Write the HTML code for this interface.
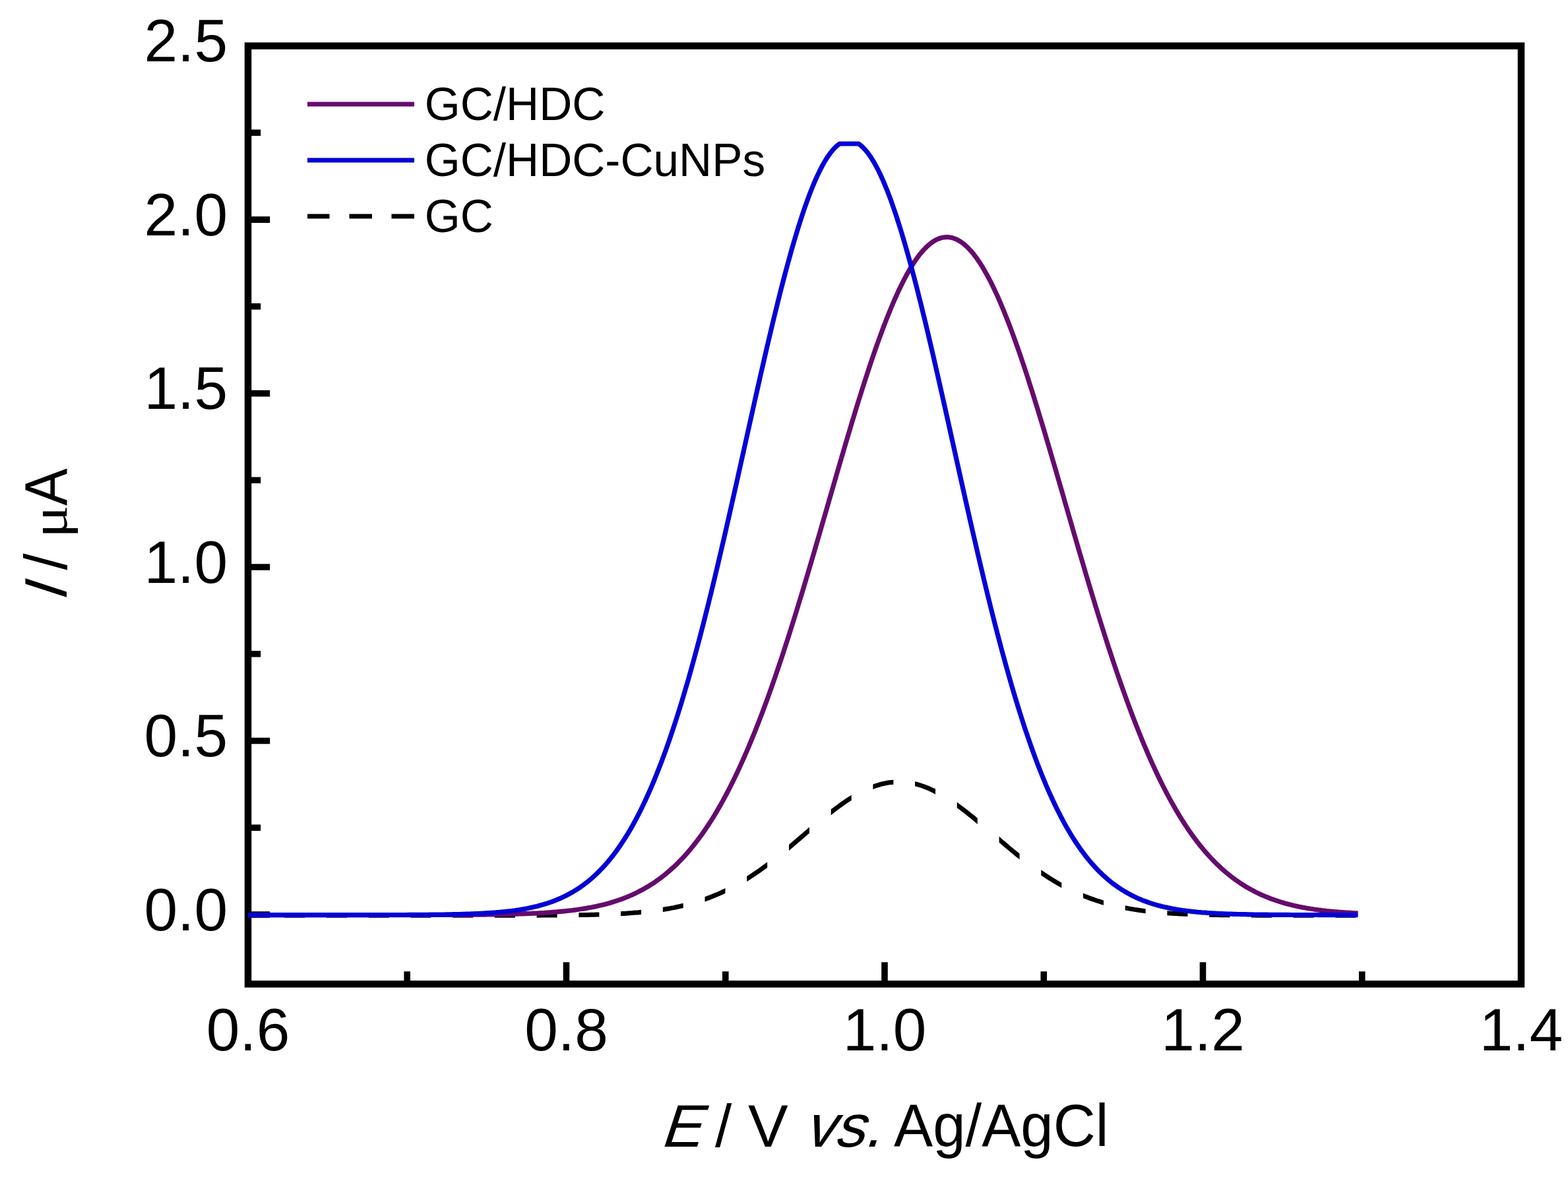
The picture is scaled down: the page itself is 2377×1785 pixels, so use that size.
<!DOCTYPE html>
<html><head><meta charset="utf-8"><title>DPV</title>
<style>
html,body{margin:0;padding:0;background:#fff;}
body{width:2377px;height:1785px;overflow:hidden;}
svg{display:block;}
text{font-family:"Liberation Sans",Arial,sans-serif;fill:#000;}
</style></head>
<body>
<svg width="2377" height="1785" viewBox="0 0 2377 1785">
<rect width="2377" height="1785" fill="#fff"/>
<defs><clipPath id="dc"><rect x="376.0" y="1000" width="31.0" height="420"/><rect x="431.3" y="1000" width="31.0" height="420"/><rect x="495.0" y="1000" width="31.0" height="420"/><rect x="558.8" y="1000" width="31.0" height="420"/><rect x="622.5" y="1000" width="31.0" height="420"/><rect x="686.2" y="1000" width="31.0" height="420"/><rect x="749.9" y="1000" width="31.0" height="420"/><rect x="813.6" y="1000" width="31.0" height="420"/><rect x="877.4" y="1000" width="31.0" height="420"/><rect x="941.1" y="1000" width="31.0" height="420"/><rect x="1004.8" y="1000" width="31.0" height="420"/><rect x="1068.5" y="1000" width="31.0" height="420"/><rect x="1132.2" y="1000" width="31.0" height="420"/><rect x="1196.0" y="1000" width="31.0" height="420"/><rect x="1259.7" y="1000" width="31.0" height="420"/><rect x="1323.4" y="1000" width="31.0" height="420"/><rect x="1387.1" y="1000" width="31.0" height="420"/><rect x="1450.8" y="1000" width="31.0" height="420"/><rect x="1514.6" y="1000" width="31.0" height="420"/><rect x="1578.3" y="1000" width="31.0" height="420"/><rect x="1642.0" y="1000" width="31.0" height="420"/><rect x="1705.7" y="1000" width="31.0" height="420"/><rect x="1769.4" y="1000" width="31.0" height="420"/><rect x="1833.2" y="1000" width="31.0" height="420"/><rect x="1896.9" y="1000" width="31.0" height="420"/><rect x="1960.6" y="1000" width="31.0" height="420"/><rect x="2024.3" y="1000" width="31.0" height="420"/></clipPath></defs>
<g stroke="#000" fill="none">
<path d="M376.0 1387.0 H409.2 M376.0 1255.3 H395.2 M376.0 1123.5 H409.2 M376.0 991.8 H395.2 M376.0 860.0 H409.2 M376.0 728.3 H395.2 M376.0 596.6 H409.2 M376.0 464.8 H395.2 M376.0 333.1 H409.2 M376.0 201.3 H395.2 M617.2 1492.4 V1473.2 M858.5 1492.4 V1459.2 M1099.8 1492.4 V1473.2 M1341.0 1492.4 V1459.2 M1582.3 1492.4 V1473.2 M1823.5 1492.4 V1459.2 M2064.8 1492.4 V1473.2" stroke-width="9.6"/>
<rect x="376" y="69.6" width="1930.0" height="1422.8" stroke-width="10.5"/>
</g>
<g fill="none" stroke-linejoin="round">
<path d="M376.0 1388.3 L379.0 1388.3 L382.0 1388.3 L385.0 1388.3 L388.0 1388.3 L391.0 1388.3 L394.0 1388.3 L397.0 1388.3 L400.0 1388.3 L403.0 1388.3 L406.0 1388.3 L409.0 1388.3 L412.0 1388.3 L415.0 1388.3 L418.0 1388.3 L421.0 1388.3 L424.0 1388.3 L427.0 1388.3 L430.0 1388.3 L433.0 1388.3 L436.0 1388.3 L439.0 1388.3 L442.0 1388.3 L445.0 1388.3 L448.0 1388.3 L451.0 1388.3 L454.0 1388.3 L457.0 1388.3 L460.0 1388.3 L463.0 1388.3 L466.0 1388.3 L469.0 1388.3 L472.0 1388.3 L475.0 1388.3 L478.0 1388.3 L481.0 1388.3 L484.0 1388.3 L487.0 1388.3 L490.0 1388.3 L493.0 1388.3 L496.0 1388.3 L499.0 1388.3 L502.0 1388.3 L505.0 1388.3 L508.0 1388.3 L511.0 1388.3 L514.0 1388.3 L517.0 1388.3 L520.0 1388.3 L523.0 1388.3 L526.0 1388.3 L529.0 1388.3 L532.0 1388.3 L535.0 1388.3 L538.0 1388.3 L541.0 1388.3 L544.0 1388.3 L547.0 1388.3 L550.0 1388.3 L553.0 1388.3 L556.0 1388.3 L559.0 1388.3 L562.0 1388.3 L565.0 1388.3 L568.0 1388.3 L571.0 1388.3 L574.0 1388.3 L577.0 1388.3 L580.0 1388.3 L583.0 1388.3 L586.0 1388.3 L589.0 1388.3 L592.0 1388.3 L595.0 1388.3 L598.0 1388.3 L601.0 1388.3 L604.0 1388.3 L607.0 1388.3 L610.0 1388.3 L613.0 1388.3 L616.0 1388.3 L619.0 1388.3 L622.0 1388.3 L625.0 1388.3 L628.0 1388.3 L631.0 1388.3 L634.0 1388.3 L637.0 1388.3 L640.0 1388.3 L643.0 1388.3 L646.0 1388.3 L649.0 1388.3 L652.0 1388.3 L655.0 1388.3 L658.0 1388.3 L661.0 1388.3 L664.0 1388.3 L667.0 1388.3 L670.0 1388.3 L673.0 1388.3 L676.0 1388.3 L679.0 1388.3 L682.0 1388.3 L685.0 1388.3 L688.0 1388.3 L691.0 1388.3 L694.0 1388.3 L697.0 1388.3 L700.0 1388.3 L703.0 1388.3 L706.0 1388.3 L709.0 1388.3 L712.0 1388.3 L715.0 1388.3 L718.0 1388.3 L721.0 1388.3 L724.0 1388.3 L727.0 1388.3 L730.0 1388.3 L733.0 1388.3 L736.0 1388.3 L739.0 1388.3 L742.0 1388.3 L745.0 1388.3 L748.0 1388.3 L751.0 1388.3 L754.0 1388.3 L757.0 1388.3 L760.0 1388.3 L763.0 1388.3 L766.0 1388.3 L769.0 1388.3 L772.0 1388.3 L775.0 1388.3 L778.0 1388.3 L781.0 1388.2 L784.0 1388.2 L787.0 1388.2 L790.0 1388.2 L793.0 1388.2 L796.0 1388.2 L799.0 1388.2 L802.0 1388.2 L805.0 1388.2 L808.0 1388.2 L811.0 1388.2 L814.0 1388.2 L817.0 1388.2 L820.0 1388.1 L823.0 1388.1 L826.0 1388.1 L829.0 1388.1 L832.0 1388.1 L835.0 1388.1 L838.0 1388.1 L841.0 1388.0 L844.0 1388.0 L847.0 1388.0 L850.0 1388.0 L853.0 1387.9 L856.0 1387.9 L859.0 1387.9 L862.0 1387.9 L865.0 1387.8 L868.0 1387.8 L871.0 1387.7 L874.0 1387.7 L877.0 1387.7 L880.0 1387.6 L883.0 1387.6 L886.0 1387.5 L889.0 1387.5 L892.0 1387.4 L895.0 1387.3 L898.0 1387.3 L901.0 1387.2 L904.0 1387.1 L907.0 1387.0 L910.0 1386.9 L913.0 1386.8 L916.0 1386.7 L919.0 1386.6 L922.0 1386.5 L925.0 1386.4 L928.0 1386.3 L931.0 1386.2 L934.0 1386.0 L937.0 1385.9 L940.0 1385.7 L943.0 1385.5 L946.0 1385.4 L949.0 1385.2 L952.0 1385.0 L955.0 1384.8 L958.0 1384.6 L961.0 1384.3 L964.0 1384.1 L967.0 1383.9 L970.0 1383.6 L973.0 1383.3 L976.0 1383.0 L979.0 1382.7 L982.0 1382.4 L985.0 1382.1 L988.0 1381.7 L991.0 1381.3 L994.0 1380.9 L997.0 1380.5 L1000.0 1380.1 L1003.0 1379.7 L1006.0 1379.2 L1009.0 1378.7 L1012.0 1378.2 L1015.0 1377.7 L1018.0 1377.1 L1021.0 1376.6 L1024.0 1376.0 L1027.0 1375.3 L1030.0 1374.7 L1033.0 1374.0 L1036.0 1373.3 L1039.0 1372.6 L1042.0 1371.8 L1045.0 1371.0 L1048.0 1370.2 L1051.0 1369.4 L1054.0 1368.5 L1057.0 1367.6 L1060.0 1366.6 L1063.0 1365.6 L1066.0 1364.6 L1069.0 1363.6 L1072.0 1362.5 L1075.0 1361.4 L1078.0 1360.2 L1081.0 1359.0 L1084.0 1357.8 L1087.0 1356.6 L1090.0 1355.3 L1093.0 1353.9 L1096.0 1352.5 L1099.0 1351.1 L1102.0 1349.7 L1105.0 1348.2 L1108.0 1346.7 L1111.0 1345.1 L1114.0 1343.5 L1117.0 1341.8 L1120.0 1340.1 L1123.0 1338.4 L1126.0 1336.6 L1129.0 1334.8 L1132.0 1333.0 L1135.0 1331.1 L1138.0 1329.1 L1141.0 1327.2 L1144.0 1325.2 L1147.0 1323.1 L1150.0 1321.1 L1153.0 1319.0 L1156.0 1316.8 L1159.0 1314.6 L1162.0 1312.4 L1165.0 1310.2 L1168.0 1307.9 L1171.0 1305.6 L1174.0 1303.3 L1177.0 1300.9 L1180.0 1298.5 L1183.0 1296.1 L1186.0 1293.7 L1189.0 1291.2 L1192.0 1288.7 L1195.0 1286.2 L1198.0 1283.7 L1201.0 1281.2 L1204.0 1278.6 L1207.0 1276.1 L1210.0 1273.5 L1213.0 1271.0 L1216.0 1268.4 L1219.0 1265.8 L1222.0 1263.2 L1225.0 1260.7 L1228.0 1258.1 L1231.0 1255.5 L1234.0 1253.0 L1237.0 1250.4 L1240.0 1247.9 L1243.0 1245.4 L1246.0 1242.9 L1249.0 1240.5 L1252.0 1238.0 L1255.0 1235.6 L1258.0 1233.2 L1261.0 1230.8 L1264.0 1228.5 L1267.0 1226.2 L1270.0 1224.0 L1273.0 1221.8 L1276.0 1219.6 L1279.0 1217.5 L1282.0 1215.4 L1285.0 1213.4 L1288.0 1211.5 L1291.0 1209.6 L1294.0 1207.7 L1297.0 1205.9 L1300.0 1204.2 L1303.0 1202.6 L1306.0 1201.0 L1309.0 1199.5 L1312.0 1198.0 L1315.0 1196.7 L1318.0 1195.4 L1321.0 1194.1 L1324.0 1193.0 L1327.0 1191.9 L1330.0 1191.0 L1333.0 1190.1 L1336.0 1189.2 L1339.0 1188.5 L1342.0 1187.9 L1345.0 1187.3 L1348.0 1186.8 L1351.0 1186.5 L1354.0 1186.2 L1357.0 1185.9 L1360.0 1185.8 L1363.0 1185.8 L1366.0 1185.9 L1369.0 1186.0 L1372.0 1186.2 L1375.0 1186.6 L1378.0 1187.0 L1381.0 1187.5 L1384.0 1188.1 L1387.0 1188.7 L1390.0 1189.5 L1393.0 1190.3 L1396.0 1191.3 L1399.0 1192.3 L1402.0 1193.4 L1405.0 1194.5 L1408.0 1195.8 L1411.0 1197.1 L1414.0 1198.5 L1417.0 1200.0 L1420.0 1201.5 L1423.0 1203.1 L1426.0 1204.8 L1429.0 1206.5 L1432.0 1208.3 L1435.0 1210.2 L1438.0 1212.1 L1441.0 1214.1 L1444.0 1216.1 L1447.0 1218.2 L1450.0 1220.3 L1453.0 1222.5 L1456.0 1224.7 L1459.0 1227.0 L1462.0 1229.3 L1465.0 1231.6 L1468.0 1234.0 L1471.0 1236.4 L1474.0 1238.8 L1477.0 1241.3 L1480.0 1243.7 L1483.0 1246.2 L1486.0 1248.8 L1489.0 1251.3 L1492.0 1253.8 L1495.0 1256.4 L1498.0 1259.0 L1501.0 1261.5 L1504.0 1264.1 L1507.0 1266.7 L1510.0 1269.3 L1513.0 1271.8 L1516.0 1274.4 L1519.0 1276.9 L1522.0 1279.5 L1525.0 1282.0 L1528.0 1284.6 L1531.0 1287.1 L1534.0 1289.6 L1537.0 1292.0 L1540.0 1294.5 L1543.0 1296.9 L1546.0 1299.3 L1549.0 1301.7 L1552.0 1304.0 L1555.0 1306.4 L1558.0 1308.7 L1561.0 1310.9 L1564.0 1313.2 L1567.0 1315.4 L1570.0 1317.5 L1573.0 1319.7 L1576.0 1321.8 L1579.0 1323.8 L1582.0 1325.9 L1585.0 1327.8 L1588.0 1329.8 L1591.0 1331.7 L1594.0 1333.6 L1597.0 1335.4 L1600.0 1337.2 L1603.0 1339.0 L1606.0 1340.7 L1609.0 1342.4 L1612.0 1344.0 L1615.0 1345.6 L1618.0 1347.2 L1621.0 1348.7 L1624.0 1350.2 L1627.0 1351.6 L1630.0 1353.0 L1633.0 1354.4 L1636.0 1355.7 L1639.0 1357.0 L1642.0 1358.2 L1645.0 1359.4 L1648.0 1360.6 L1651.0 1361.8 L1654.0 1362.9 L1657.0 1363.9 L1660.0 1365.0 L1663.0 1366.0 L1666.0 1366.9 L1669.0 1367.9 L1672.0 1368.8 L1675.0 1369.6 L1678.0 1370.5 L1681.0 1371.3 L1684.0 1372.1 L1687.0 1372.8 L1690.0 1373.5 L1693.0 1374.2 L1696.0 1374.9 L1699.0 1375.5 L1702.0 1376.2 L1705.0 1376.8 L1708.0 1377.3 L1711.0 1377.9 L1714.0 1378.4 L1717.0 1378.9 L1720.0 1379.4 L1723.0 1379.8 L1726.0 1380.3 L1729.0 1380.7 L1732.0 1381.1 L1735.0 1381.5 L1738.0 1381.8 L1741.0 1382.2 L1744.0 1382.5 L1747.0 1382.8 L1750.0 1383.1 L1753.0 1383.4 L1756.0 1383.7 L1759.0 1383.9 L1762.0 1384.2 L1765.0 1384.4 L1768.0 1384.6 L1771.0 1384.9 L1774.0 1385.1 L1777.0 1385.2 L1780.0 1385.4 L1783.0 1385.6 L1786.0 1385.8 L1789.0 1385.9 L1792.0 1386.1 L1795.0 1386.2 L1798.0 1386.3 L1801.0 1386.4 L1804.0 1386.6 L1807.0 1386.7 L1810.0 1386.8 L1813.0 1386.9 L1816.0 1387.0 L1819.0 1387.1 L1822.0 1387.1 L1825.0 1387.2 L1828.0 1387.3 L1831.0 1387.3 L1834.0 1387.4 L1837.0 1387.5 L1840.0 1387.5 L1843.0 1387.6 L1846.0 1387.6 L1849.0 1387.7 L1852.0 1387.7 L1855.0 1387.8 L1858.0 1387.8 L1861.0 1387.8 L1864.0 1387.9 L1867.0 1387.9 L1870.0 1387.9 L1873.0 1388.0 L1876.0 1388.0 L1879.0 1388.0 L1882.0 1388.0 L1885.0 1388.0 L1888.0 1388.1 L1891.0 1388.1 L1894.0 1388.1 L1897.0 1388.1 L1900.0 1388.1 L1903.0 1388.1 L1906.0 1388.2 L1909.0 1388.2 L1912.0 1388.2 L1915.0 1388.2 L1918.0 1388.2 L1921.0 1388.2 L1924.0 1388.2 L1927.0 1388.2 L1930.0 1388.2 L1933.0 1388.2 L1936.0 1388.2 L1939.0 1388.2 L1942.0 1388.2 L1945.0 1388.2 L1948.0 1388.3 L1951.0 1388.3 L1954.0 1388.3 L1957.0 1388.3 L1960.0 1388.3 L1963.0 1388.3 L1966.0 1388.3 L1969.0 1388.3 L1972.0 1388.3 L1975.0 1388.3 L1978.0 1388.3 L1981.0 1388.3 L1984.0 1388.3 L1987.0 1388.3 L1990.0 1388.3 L1993.0 1388.3 L1996.0 1388.3 L1999.0 1388.3 L2002.0 1388.3 L2005.0 1388.3 L2008.0 1388.3 L2011.0 1388.3 L2014.0 1388.3 L2017.0 1388.3 L2020.0 1388.3 L2023.0 1388.3 L2026.0 1388.3 L2029.0 1388.3 L2032.0 1388.3 L2035.0 1388.3 L2038.0 1388.3 L2041.0 1388.3 L2044.0 1388.3 L2047.0 1388.3 L2050.0 1388.3 L2053.0 1388.3 L2056.0 1388.3 L2058.5 1388.3" stroke="#000" stroke-width="7" clip-path="url(#dc)"/>
<path d="M376.0 1387.6 L379.0 1387.6 L382.0 1387.6 L385.0 1387.6 L388.0 1387.6 L391.0 1387.6 L394.0 1387.6 L397.0 1387.6 L400.0 1387.6 L403.0 1387.6 L406.0 1387.6 L409.0 1387.6 L412.0 1387.6 L415.0 1387.6 L418.0 1387.6 L421.0 1387.6 L424.0 1387.6 L427.0 1387.6 L430.0 1387.6 L433.0 1387.6 L436.0 1387.6 L439.0 1387.6 L442.0 1387.6 L445.0 1387.6 L448.0 1387.6 L451.0 1387.6 L454.0 1387.6 L457.0 1387.6 L460.0 1387.6 L463.0 1387.6 L466.0 1387.6 L469.0 1387.6 L472.0 1387.6 L475.0 1387.6 L478.0 1387.6 L481.0 1387.6 L484.0 1387.6 L487.0 1387.6 L490.0 1387.6 L493.0 1387.6 L496.0 1387.6 L499.0 1387.6 L502.0 1387.6 L505.0 1387.6 L508.0 1387.6 L511.0 1387.6 L514.0 1387.6 L517.0 1387.6 L520.0 1387.6 L523.0 1387.6 L526.0 1387.6 L529.0 1387.6 L532.0 1387.6 L535.0 1387.6 L538.0 1387.6 L541.0 1387.6 L544.0 1387.6 L547.0 1387.6 L550.0 1387.6 L553.0 1387.6 L556.0 1387.6 L559.0 1387.6 L562.0 1387.6 L565.0 1387.6 L568.0 1387.6 L571.0 1387.6 L574.0 1387.6 L577.0 1387.6 L580.0 1387.6 L583.0 1387.6 L586.0 1387.6 L589.0 1387.6 L592.0 1387.6 L595.0 1387.6 L598.0 1387.6 L601.0 1387.6 L604.0 1387.6 L607.0 1387.6 L610.0 1387.6 L613.0 1387.6 L616.0 1387.6 L619.0 1387.6 L622.0 1387.6 L625.0 1387.6 L628.0 1387.6 L631.0 1387.6 L634.0 1387.5 L637.0 1387.5 L640.0 1387.5 L643.0 1387.5 L646.0 1387.5 L649.0 1387.5 L652.0 1387.5 L655.0 1387.5 L658.0 1387.5 L661.0 1387.5 L664.0 1387.5 L667.0 1387.5 L670.0 1387.5 L673.0 1387.5 L676.0 1387.5 L679.0 1387.5 L682.0 1387.4 L685.0 1387.4 L688.0 1387.4 L691.0 1387.4 L694.0 1387.4 L697.0 1387.4 L700.0 1387.4 L703.0 1387.3 L706.0 1387.3 L709.0 1387.3 L712.0 1387.3 L715.0 1387.3 L718.0 1387.2 L721.0 1387.2 L724.0 1387.2 L727.0 1387.2 L730.0 1387.1 L733.0 1387.1 L736.0 1387.1 L739.0 1387.0 L742.0 1387.0 L745.0 1386.9 L748.0 1386.9 L751.0 1386.9 L754.0 1386.8 L757.0 1386.8 L760.0 1386.7 L763.0 1386.6 L766.0 1386.6 L769.0 1386.5 L772.0 1386.5 L775.0 1386.4 L778.0 1386.3 L781.0 1386.2 L784.0 1386.1 L787.0 1386.0 L790.0 1385.9 L793.0 1385.8 L796.0 1385.7 L799.0 1385.6 L802.0 1385.5 L805.0 1385.4 L808.0 1385.2 L811.0 1385.1 L814.0 1385.0 L817.0 1384.8 L820.0 1384.6 L823.0 1384.5 L826.0 1384.3 L829.0 1384.1 L832.0 1383.9 L835.0 1383.7 L838.0 1383.4 L841.0 1383.2 L844.0 1383.0 L847.0 1382.7 L850.0 1382.4 L853.0 1382.1 L856.0 1381.8 L859.0 1381.5 L862.0 1381.2 L865.0 1380.8 L868.0 1380.5 L871.0 1380.1 L874.0 1379.7 L877.0 1379.3 L880.0 1378.8 L883.0 1378.4 L886.0 1377.9 L889.0 1377.4 L892.0 1376.8 L895.0 1376.3 L898.0 1375.7 L901.0 1375.1 L904.0 1374.5 L907.0 1373.8 L910.0 1373.1 L913.0 1372.4 L916.0 1371.7 L919.0 1370.9 L922.0 1370.1 L925.0 1369.2 L928.0 1368.3 L931.0 1367.4 L934.0 1366.4 L937.0 1365.4 L940.0 1364.4 L943.0 1363.3 L946.0 1362.2 L949.0 1361.0 L952.0 1359.8 L955.0 1358.5 L958.0 1357.2 L961.0 1355.8 L964.0 1354.4 L967.0 1352.9 L970.0 1351.3 L973.0 1349.8 L976.0 1348.1 L979.0 1346.4 L982.0 1344.6 L985.0 1342.8 L988.0 1340.9 L991.0 1338.9 L994.0 1336.9 L997.0 1334.7 L1000.0 1332.6 L1003.0 1330.3 L1006.0 1328.0 L1009.0 1325.6 L1012.0 1323.1 L1015.0 1320.5 L1018.0 1317.8 L1021.0 1315.1 L1024.0 1312.3 L1027.0 1309.4 L1030.0 1306.3 L1033.0 1303.2 L1036.0 1300.1 L1039.0 1296.8 L1042.0 1293.4 L1045.0 1289.9 L1048.0 1286.3 L1051.0 1282.6 L1054.0 1278.8 L1057.0 1274.9 L1060.0 1270.9 L1063.0 1266.8 L1066.0 1262.6 L1069.0 1258.3 L1072.0 1253.8 L1075.0 1249.2 L1078.0 1244.6 L1081.0 1239.8 L1084.0 1234.9 L1087.0 1229.8 L1090.0 1224.7 L1093.0 1219.4 L1096.0 1214.0 L1099.0 1208.5 L1102.0 1202.8 L1105.0 1197.1 L1108.0 1191.2 L1111.0 1185.1 L1114.0 1179.0 L1117.0 1172.7 L1120.0 1166.3 L1123.0 1159.8 L1126.0 1153.1 L1129.0 1146.3 L1132.0 1139.4 L1135.0 1132.4 L1138.0 1125.2 L1141.0 1117.9 L1144.0 1110.5 L1147.0 1102.9 L1150.0 1095.3 L1153.0 1087.5 L1156.0 1079.6 L1159.0 1071.5 L1162.0 1063.4 L1165.0 1055.1 L1168.0 1046.7 L1171.0 1038.2 L1174.0 1029.6 L1177.0 1020.9 L1180.0 1012.0 L1183.0 1003.1 L1186.0 994.1 L1189.0 984.9 L1192.0 975.7 L1195.0 966.3 L1198.0 956.9 L1201.0 947.4 L1204.0 937.8 L1207.0 928.1 L1210.0 918.3 L1213.0 908.5 L1216.0 898.6 L1219.0 888.6 L1222.0 878.6 L1225.0 868.5 L1228.0 858.3 L1231.0 848.2 L1234.0 837.9 L1237.0 827.6 L1240.0 817.3 L1243.0 807.0 L1246.0 796.6 L1249.0 786.3 L1252.0 775.9 L1255.0 765.5 L1258.0 755.1 L1261.0 744.7 L1264.0 734.3 L1267.0 723.9 L1270.0 713.6 L1273.0 703.3 L1276.0 693.0 L1279.0 682.8 L1282.0 672.6 L1285.0 662.5 L1288.0 652.4 L1291.0 642.4 L1294.0 632.5 L1297.0 622.6 L1300.0 612.8 L1303.0 603.2 L1306.0 593.6 L1309.0 584.1 L1312.0 574.8 L1315.0 565.6 L1318.0 556.5 L1321.0 547.5 L1324.0 538.7 L1327.0 530.0 L1330.0 521.4 L1333.0 513.1 L1336.0 504.9 L1339.0 496.8 L1342.0 489.0 L1345.0 481.3 L1348.0 473.8 L1351.0 466.5 L1354.0 459.4 L1357.0 452.5 L1360.0 445.8 L1363.0 439.4 L1366.0 433.1 L1369.0 427.1 L1372.0 421.3 L1375.0 415.8 L1378.0 410.4 L1381.0 405.4 L1384.0 400.6 L1387.0 396.0 L1390.0 391.7 L1393.0 387.6 L1396.0 383.8 L1399.0 380.3 L1402.0 377.1 L1405.0 374.1 L1408.0 371.4 L1411.0 368.9 L1414.0 366.8 L1417.0 364.9 L1420.0 363.3 L1423.0 362.0 L1426.0 361.0 L1429.0 360.2 L1432.0 359.8 L1435.0 359.6 L1438.0 359.7 L1441.0 360.1 L1444.0 360.8 L1447.0 361.8 L1450.0 363.0 L1453.0 364.6 L1456.0 366.4 L1459.0 368.5 L1462.0 370.9 L1465.0 373.5 L1468.0 376.4 L1471.0 379.6 L1474.0 383.1 L1477.0 386.8 L1480.0 390.8 L1483.0 395.1 L1486.0 399.6 L1489.0 404.4 L1492.0 409.4 L1495.0 414.7 L1498.0 420.2 L1501.0 425.9 L1504.0 431.9 L1507.0 438.1 L1510.0 444.5 L1513.0 451.1 L1516.0 458.0 L1519.0 465.1 L1522.0 472.3 L1525.0 479.8 L1528.0 487.4 L1531.0 495.2 L1534.0 503.2 L1537.0 511.4 L1540.0 519.8 L1543.0 528.3 L1546.0 536.9 L1549.0 545.7 L1552.0 554.7 L1555.0 563.7 L1558.0 572.9 L1561.0 582.3 L1564.0 591.7 L1567.0 601.2 L1570.0 610.9 L1573.0 620.6 L1576.0 630.5 L1579.0 640.4 L1582.0 650.4 L1585.0 660.4 L1588.0 670.6 L1591.0 680.7 L1594.0 691.0 L1597.0 701.2 L1600.0 711.5 L1603.0 721.9 L1606.0 732.2 L1609.0 742.6 L1612.0 753.0 L1615.0 763.4 L1618.0 773.8 L1621.0 784.2 L1624.0 794.6 L1627.0 804.9 L1630.0 815.3 L1633.0 825.6 L1636.0 835.9 L1639.0 846.1 L1642.0 856.3 L1645.0 866.5 L1648.0 876.6 L1651.0 886.6 L1654.0 896.6 L1657.0 906.5 L1660.0 916.4 L1663.0 926.2 L1666.0 935.9 L1669.0 945.5 L1672.0 955.0 L1675.0 964.5 L1678.0 973.8 L1681.0 983.1 L1684.0 992.2 L1687.0 1001.3 L1690.0 1010.3 L1693.0 1019.1 L1696.0 1027.9 L1699.0 1036.5 L1702.0 1045.0 L1705.0 1053.4 L1708.0 1061.7 L1711.0 1069.9 L1714.0 1078.0 L1717.0 1085.9 L1720.0 1093.7 L1723.0 1101.4 L1726.0 1109.0 L1729.0 1116.4 L1732.0 1123.8 L1735.0 1130.9 L1738.0 1138.0 L1741.0 1145.0 L1744.0 1151.8 L1747.0 1158.5 L1750.0 1165.0 L1753.0 1171.4 L1756.0 1177.7 L1759.0 1183.9 L1762.0 1190.0 L1765.0 1195.9 L1768.0 1201.7 L1771.0 1207.4 L1774.0 1212.9 L1777.0 1218.3 L1780.0 1223.6 L1783.0 1228.8 L1786.0 1233.9 L1789.0 1238.8 L1792.0 1243.6 L1795.0 1248.3 L1798.0 1252.9 L1801.0 1257.4 L1804.0 1261.7 L1807.0 1266.0 L1810.0 1270.1 L1813.0 1274.1 L1816.0 1278.1 L1819.0 1281.9 L1822.0 1285.6 L1825.0 1289.2 L1828.0 1292.7 L1831.0 1296.1 L1834.0 1299.4 L1837.0 1302.6 L1840.0 1305.7 L1843.0 1308.8 L1846.0 1311.7 L1849.0 1314.5 L1852.0 1317.3 L1855.0 1320.0 L1858.0 1322.6 L1861.0 1325.1 L1864.0 1327.5 L1867.0 1329.8 L1870.0 1332.1 L1873.0 1334.3 L1876.0 1336.4 L1879.0 1338.5 L1882.0 1340.5 L1885.0 1342.4 L1888.0 1344.3 L1891.0 1346.0 L1894.0 1347.8 L1897.0 1349.4 L1900.0 1351.0 L1903.0 1352.6 L1906.0 1354.1 L1909.0 1355.5 L1912.0 1356.9 L1915.0 1358.2 L1918.0 1359.5 L1921.0 1360.7 L1924.0 1361.9 L1927.0 1363.1 L1930.0 1364.2 L1933.0 1365.2 L1936.0 1366.2 L1939.0 1367.2 L1942.0 1368.1 L1945.0 1369.0 L1948.0 1369.9 L1951.0 1370.7 L1954.0 1371.5 L1957.0 1372.3 L1960.0 1373.0 L1963.0 1373.7 L1966.0 1374.3 L1969.0 1375.0 L1972.0 1375.6 L1975.0 1376.2 L1978.0 1376.7 L1981.0 1377.3 L1984.0 1377.8 L1987.0 1378.3 L1990.0 1378.7 L1993.0 1379.2 L1996.0 1379.6 L1999.0 1380.0 L2002.0 1380.4 L2005.0 1380.8 L2008.0 1381.1 L2011.0 1381.5 L2014.0 1381.8 L2017.0 1382.1 L2020.0 1382.4 L2023.0 1382.7 L2026.0 1382.9 L2029.0 1383.2 L2032.0 1383.4 L2035.0 1383.6 L2038.0 1383.8 L2041.0 1384.0 L2044.0 1384.2 L2047.0 1384.4 L2050.0 1384.6 L2053.0 1384.8 L2056.0 1384.9 L2058.5 1385.1" stroke="#650b6e" stroke-width="7.2"/>
<path d="M376.0 1387.6 L379.0 1387.6 L382.0 1387.6 L385.0 1387.6 L388.0 1387.6 L391.0 1387.6 L394.0 1387.6 L397.0 1387.6 L400.0 1387.6 L403.0 1387.6 L406.0 1387.6 L409.0 1387.6 L412.0 1387.6 L415.0 1387.6 L418.0 1387.6 L421.0 1387.6 L424.0 1387.6 L427.0 1387.6 L430.0 1387.6 L433.0 1387.6 L436.0 1387.6 L439.0 1387.6 L442.0 1387.6 L445.0 1387.6 L448.0 1387.6 L451.0 1387.6 L454.0 1387.6 L457.0 1387.6 L460.0 1387.6 L463.0 1387.6 L466.0 1387.6 L469.0 1387.6 L472.0 1387.6 L475.0 1387.6 L478.0 1387.6 L481.0 1387.6 L484.0 1387.6 L487.0 1387.6 L490.0 1387.6 L493.0 1387.6 L496.0 1387.6 L499.0 1387.6 L502.0 1387.6 L505.0 1387.6 L508.0 1387.6 L511.0 1387.6 L514.0 1387.6 L517.0 1387.6 L520.0 1387.6 L523.0 1387.6 L526.0 1387.6 L529.0 1387.6 L532.0 1387.6 L535.0 1387.6 L538.0 1387.6 L541.0 1387.6 L544.0 1387.6 L547.0 1387.6 L550.0 1387.6 L553.0 1387.6 L556.0 1387.6 L559.0 1387.6 L562.0 1387.6 L565.0 1387.6 L568.0 1387.6 L571.0 1387.6 L574.0 1387.6 L577.0 1387.6 L580.0 1387.5 L583.0 1387.5 L586.0 1387.5 L589.0 1387.5 L592.0 1387.5 L595.0 1387.5 L598.0 1387.5 L601.0 1387.5 L604.0 1387.5 L607.0 1387.5 L610.0 1387.5 L613.0 1387.5 L616.0 1387.5 L619.0 1387.4 L622.0 1387.4 L625.0 1387.4 L628.0 1387.4 L631.0 1387.4 L634.0 1387.4 L637.0 1387.4 L640.0 1387.3 L643.0 1387.3 L646.0 1387.3 L649.0 1387.3 L652.0 1387.2 L655.0 1387.2 L658.0 1387.2 L661.0 1387.1 L664.0 1387.1 L667.0 1387.1 L670.0 1387.0 L673.0 1387.0 L676.0 1386.9 L679.0 1386.9 L682.0 1386.8 L685.0 1386.8 L688.0 1386.7 L691.0 1386.6 L694.0 1386.6 L697.0 1386.5 L700.0 1386.4 L703.0 1386.3 L706.0 1386.2 L709.0 1386.1 L712.0 1386.0 L715.0 1385.9 L718.0 1385.8 L721.0 1385.7 L724.0 1385.6 L727.0 1385.4 L730.0 1385.3 L733.0 1385.1 L736.0 1384.9 L739.0 1384.7 L742.0 1384.6 L745.0 1384.3 L748.0 1384.1 L751.0 1383.9 L754.0 1383.6 L757.0 1383.4 L760.0 1383.1 L763.0 1382.8 L766.0 1382.5 L769.0 1382.2 L772.0 1381.8 L775.0 1381.5 L778.0 1381.1 L781.0 1380.7 L784.0 1380.2 L787.0 1379.8 L790.0 1379.3 L793.0 1378.8 L796.0 1378.2 L799.0 1377.7 L802.0 1377.1 L805.0 1376.4 L808.0 1375.8 L811.0 1375.1 L814.0 1374.4 L817.0 1373.6 L820.0 1372.8 L823.0 1371.9 L826.0 1371.0 L829.0 1370.1 L832.0 1369.1 L835.0 1368.1 L838.0 1367.0 L841.0 1365.8 L844.0 1364.6 L847.0 1363.4 L850.0 1362.1 L853.0 1360.7 L856.0 1359.3 L859.0 1357.8 L862.0 1356.2 L865.0 1354.5 L868.0 1352.8 L871.0 1351.0 L874.0 1349.2 L877.0 1347.2 L880.0 1345.2 L883.0 1343.1 L886.0 1340.9 L889.0 1338.6 L892.0 1336.2 L895.0 1333.7 L898.0 1331.1 L901.0 1328.4 L904.0 1325.6 L907.0 1322.7 L910.0 1319.6 L913.0 1316.5 L916.0 1313.3 L919.0 1309.9 L922.0 1306.4 L925.0 1302.7 L928.0 1299.0 L931.0 1295.1 L934.0 1291.1 L937.0 1286.9 L940.0 1282.6 L943.0 1278.1 L946.0 1273.5 L949.0 1268.8 L952.0 1263.9 L955.0 1258.8 L958.0 1253.6 L961.0 1248.2 L964.0 1242.7 L967.0 1236.9 L970.0 1231.1 L973.0 1225.0 L976.0 1218.8 L979.0 1212.4 L982.0 1205.8 L985.0 1199.0 L988.0 1192.1 L991.0 1185.0 L994.0 1177.7 L997.0 1170.2 L1000.0 1162.5 L1003.0 1154.7 L1006.0 1146.6 L1009.0 1138.4 L1012.0 1129.9 L1015.0 1121.3 L1018.0 1112.5 L1021.0 1103.5 L1024.0 1094.3 L1027.0 1085.0 L1030.0 1075.4 L1033.0 1065.7 L1036.0 1055.8 L1039.0 1045.6 L1042.0 1035.4 L1045.0 1024.9 L1048.0 1014.2 L1051.0 1003.4 L1054.0 992.4 L1057.0 981.3 L1060.0 970.0 L1063.0 958.5 L1066.0 946.8 L1069.0 935.0 L1072.0 923.1 L1075.0 911.0 L1078.0 898.8 L1081.0 886.4 L1084.0 874.0 L1087.0 861.4 L1090.0 848.6 L1093.0 835.8 L1096.0 822.9 L1099.0 809.9 L1102.0 796.8 L1105.0 783.6 L1108.0 770.3 L1111.0 757.0 L1114.0 743.6 L1117.0 730.2 L1120.0 716.7 L1123.0 703.2 L1126.0 689.7 L1129.0 676.2 L1132.0 662.7 L1135.0 649.2 L1138.0 635.7 L1141.0 622.2 L1144.0 608.8 L1147.0 595.4 L1150.0 582.1 L1153.0 568.8 L1156.0 555.7 L1159.0 542.6 L1162.0 529.6 L1165.0 516.8 L1168.0 504.1 L1171.0 491.5 L1174.0 479.0 L1177.0 466.8 L1180.0 454.7 L1183.0 442.7 L1186.0 431.0 L1189.0 419.5 L1192.0 408.2 L1195.0 397.1 L1198.0 386.2 L1201.0 375.6 L1204.0 365.2 L1207.0 355.2 L1210.0 345.3 L1213.0 335.8 L1216.0 326.6 L1219.0 317.7 L1222.0 309.1 L1225.0 300.8 L1228.0 292.8 L1231.0 285.2 L1234.0 277.9 L1237.0 271.0 L1240.0 264.5 L1243.0 258.3 L1246.0 252.5 L1249.0 247.0 L1252.0 242.0 L1255.0 237.3 L1258.0 233.1 L1261.0 229.2 L1264.0 225.8 L1267.0 222.8 L1270.0 220.1 L1272.9 218.0 L1273.0 218.0 L1276.0 218.0 L1279.0 218.0 L1282.0 218.0 L1285.0 218.0 L1288.0 218.0 L1291.0 218.0 L1294.0 218.0 L1297.0 218.0 L1300.0 218.0 L1301.5 218.0 L1303.0 219.1 L1306.0 221.5 L1309.0 224.3 L1312.0 227.6 L1315.0 231.2 L1318.0 235.3 L1321.0 239.8 L1324.0 244.6 L1327.0 249.9 L1330.0 255.5 L1333.0 261.5 L1336.0 267.9 L1339.0 274.6 L1342.0 281.8 L1345.0 289.2 L1348.0 297.0 L1351.0 305.1 L1354.0 313.6 L1357.0 322.4 L1360.0 331.5 L1363.0 340.9 L1366.0 350.5 L1369.0 360.5 L1372.0 370.7 L1375.0 381.2 L1378.0 392.0 L1381.0 402.9 L1384.0 414.2 L1387.0 425.6 L1390.0 437.2 L1393.0 449.1 L1396.0 461.1 L1399.0 473.3 L1402.0 485.7 L1405.0 498.2 L1408.0 510.8 L1411.0 523.6 L1414.0 536.5 L1417.0 549.6 L1420.0 562.7 L1423.0 575.9 L1426.0 589.2 L1429.0 602.5 L1432.0 615.9 L1435.0 629.4 L1438.0 642.9 L1441.0 656.4 L1444.0 669.9 L1447.0 683.4 L1450.0 696.9 L1453.0 710.4 L1456.0 723.9 L1459.0 737.4 L1462.0 750.8 L1465.0 764.1 L1468.0 777.4 L1471.0 790.6 L1474.0 803.8 L1477.0 816.8 L1480.0 829.8 L1483.0 842.7 L1486.0 855.4 L1489.0 868.1 L1492.0 880.6 L1495.0 893.0 L1498.0 905.3 L1501.0 917.5 L1504.0 929.5 L1507.0 941.4 L1510.0 953.1 L1513.0 964.6 L1516.0 976.0 L1519.0 987.3 L1522.0 998.3 L1525.0 1009.2 L1528.0 1019.9 L1531.0 1030.5 L1534.0 1040.9 L1537.0 1051.1 L1540.0 1061.1 L1543.0 1070.9 L1546.0 1080.5 L1549.0 1090.0 L1552.0 1099.3 L1555.0 1108.4 L1558.0 1117.2 L1561.0 1125.9 L1564.0 1134.5 L1567.0 1142.8 L1570.0 1150.9 L1573.0 1158.9 L1576.0 1166.6 L1579.0 1174.2 L1582.0 1181.6 L1585.0 1188.8 L1588.0 1195.8 L1591.0 1202.7 L1594.0 1209.3 L1597.0 1215.8 L1600.0 1222.1 L1603.0 1228.3 L1606.0 1234.2 L1609.0 1240.0 L1612.0 1245.6 L1615.0 1251.1 L1618.0 1256.4 L1621.0 1261.5 L1624.0 1266.5 L1627.0 1271.3 L1630.0 1276.0 L1633.0 1280.5 L1636.0 1284.9 L1639.0 1289.1 L1642.0 1293.2 L1645.0 1297.2 L1648.0 1301.0 L1651.0 1304.7 L1654.0 1308.3 L1657.0 1311.7 L1660.0 1315.0 L1663.0 1318.2 L1666.0 1321.3 L1669.0 1324.2 L1672.0 1327.1 L1675.0 1329.8 L1678.0 1332.5 L1681.0 1335.0 L1684.0 1337.5 L1687.0 1339.8 L1690.0 1342.0 L1693.0 1344.2 L1696.0 1346.3 L1699.0 1348.3 L1702.0 1350.2 L1705.0 1352.0 L1708.0 1353.7 L1711.0 1355.4 L1714.0 1357.0 L1717.0 1358.6 L1720.0 1360.0 L1723.0 1361.4 L1726.0 1362.8 L1729.0 1364.0 L1732.0 1365.3 L1735.0 1366.4 L1738.0 1367.5 L1741.0 1368.6 L1744.0 1369.6 L1747.0 1370.6 L1750.0 1371.5 L1753.0 1372.4 L1756.0 1373.2 L1759.0 1374.0 L1762.0 1374.8 L1765.0 1375.5 L1768.0 1376.1 L1771.0 1376.8 L1774.0 1377.4 L1777.0 1378.0 L1780.0 1378.5 L1783.0 1379.1 L1786.0 1379.6 L1789.0 1380.0 L1792.0 1380.5 L1795.0 1380.9 L1798.0 1381.3 L1801.0 1381.7 L1804.0 1382.0 L1807.0 1382.4 L1810.0 1382.7 L1813.0 1383.0 L1816.0 1383.3 L1819.0 1383.5 L1822.0 1383.8 L1825.0 1384.0 L1828.0 1384.2 L1831.0 1384.5 L1834.0 1384.7 L1837.0 1384.8 L1840.0 1385.0 L1843.0 1385.2 L1846.0 1385.3 L1849.0 1385.5 L1852.0 1385.6 L1855.0 1385.8 L1858.0 1385.9 L1861.0 1386.0 L1864.0 1386.1 L1867.0 1386.2 L1870.0 1386.3 L1873.0 1386.4 L1876.0 1386.5 L1879.0 1386.5 L1882.0 1386.6 L1885.0 1386.7 L1888.0 1386.7 L1891.0 1386.8 L1894.0 1386.9 L1897.0 1386.9 L1900.0 1387.0 L1903.0 1387.0 L1906.0 1387.1 L1909.0 1387.1 L1912.0 1387.1 L1915.0 1387.2 L1918.0 1387.2 L1921.0 1387.2 L1924.0 1387.3 L1927.0 1387.3 L1930.0 1387.3 L1933.0 1387.3 L1936.0 1387.3 L1939.0 1387.4 L1942.0 1387.4 L1945.0 1387.4 L1948.0 1387.4 L1951.0 1387.4 L1954.0 1387.4 L1957.0 1387.5 L1960.0 1387.5 L1963.0 1387.5 L1966.0 1387.5 L1969.0 1387.5 L1972.0 1387.5 L1975.0 1387.5 L1978.0 1387.5 L1981.0 1387.5 L1984.0 1387.5 L1987.0 1387.5 L1990.0 1387.5 L1993.0 1387.5 L1996.0 1387.5 L1999.0 1387.6 L2002.0 1387.6 L2005.0 1387.6 L2008.0 1387.6 L2011.0 1387.6 L2014.0 1387.6 L2017.0 1387.6 L2020.0 1387.6 L2023.0 1387.6 L2026.0 1387.6 L2029.0 1387.6 L2032.0 1387.6 L2035.0 1387.6 L2038.0 1387.6 L2041.0 1387.6 L2044.0 1387.6 L2047.0 1387.6 L2050.0 1387.6 L2053.0 1387.6 L2056.0 1387.6 L2058.5 1387.6" stroke="#0303d6" stroke-width="7.2"/>
</g>
<g font-size="91">
<text x="345.0" y="1410.5" text-anchor="end">0.0</text>
<text x="345.0" y="1147.0" text-anchor="end">0.5</text>
<text x="345.0" y="883.5" text-anchor="end">1.0</text>
<text x="345.0" y="620.1" text-anchor="end">1.5</text>
<text x="345.0" y="356.6" text-anchor="end">2.0</text>
<text x="345.0" y="93.1" text-anchor="end">2.5</text>
<text x="376.0" y="1593.0" text-anchor="middle">0.6</text>
<text x="858.5" y="1593.0" text-anchor="middle">0.8</text>
<text x="1341.0" y="1593.0" text-anchor="middle">1.0</text>
<text x="1823.5" y="1593.0" text-anchor="middle">1.2</text>
<text x="2306.0" y="1593.0" text-anchor="middle">1.4</text>
</g>
<g font-size="91"><text transform="translate(1000.0 1738.5) skewX(-18)">E</text><text x="1084.0" y="1738.5">/</text><text x="1134.0" y="1738.5">V</text><text transform="translate(1218.0 1738.5) skewX(-18)">vs.</text><text x="0.0" y="1738.5" transform="translate(1355.0 0) scale(0.975 1) translate(0.0 0)">Ag/AgCl</text></g>
<g font-size="91" transform="translate(101.0 906.0) rotate(-90)"><text transform="translate(-8.2 0) skewX(-18)">I</text><text x="41.4" y="0">/</text><text transform="translate(90.0 0) scale(1.17 1)" font-size="79" style="font-family:'Liberation Serif',serif">&#956;</text><text transform="translate(139.0 0) scale(0.934 1)">A</text></g>
<g stroke-width="7.2" fill="none">
<path d="M466 158 H628" stroke="#650b6e"/>
<path d="M466 243 H628" stroke="#0303d6"/>
<path d="M466 328 H499.5 M529.5 328 H564 M593.5 328 H628" stroke="#000" stroke-width="7"/>
</g>
<g font-size="71">
<text transform="translate(643.8 182.4) scale(0.977 1)">GC/HDC</text>
<text transform="translate(643.8 267.0) scale(0.977 1)">GC/HDC-CuNPs</text>
<text transform="translate(643.8 351.5) scale(0.977 1)">GC</text>
</g>
</svg>
</body></html>
